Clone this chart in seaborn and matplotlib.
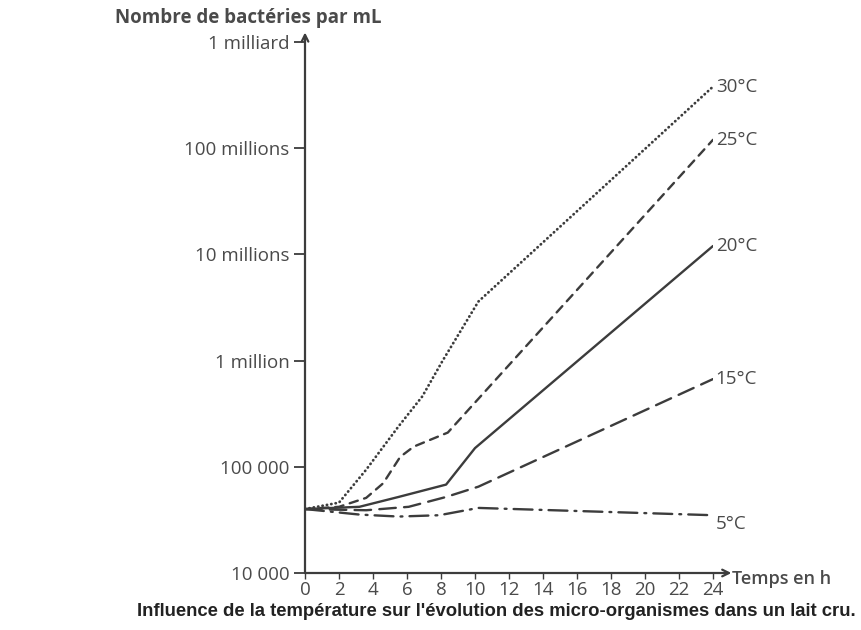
import numpy as np
import pandas as pd
import matplotlib
matplotlib.use('Agg')
import matplotlib.pyplot as plt
import seaborn as sns

# Courbes (temps en h, bactéries par mL)
T30_X = [0, 2, 3.6, 5.5, 6.9, 8.1, 10.2, 24]
T30_Y = [40000, 46000, 94000, 240000, 460000, 1000000, 3600000, 380000000]
T25_X = [0, 2, 3.6, 4.6, 5.6, 6.4, 8.4, 24]
T25_Y = [40000, 42000, 51000, 70000, 124000, 155000, 210000, 120000000]
T20_X = [0, 3.2, 5.5, 8.3, 10, 24]
T20_Y = [40000, 42000, 52000, 68000, 150000, 12000000]
T15_X = [0, 3.6, 6.1, 8.3, 10.2, 24]
T15_Y = [40000, 39000, 42000, 52000, 65000, 670000]
T5_X = [0, 3.2, 5.5, 7.9, 10.2, 24]
T5_Y = [40000, 35500, 34000, 35000, 41000, 35000]

LABELS = ['30°C', '25°C', '20°C', '15°C', '5°C']
X_TICKS = list(range(0, 25, 2))
Y_TICKS = [1e4, 1e5, 1e6, 1e7, 1e8, 1e9]
Y_TICK_LABELS = ['10 000', '100 000', '1 million', '10 millions', '100 millions', '1 milliard']

series = [(T30_X, T30_Y), (T25_X, T25_Y), (T20_X, T20_Y), (T15_X, T15_Y), (T5_X, T5_Y)]
rows = []
for lab, (xs, ys) in zip(LABELS, series):
    for x, y in zip(xs, ys):
        rows.append({'temps': x, 'bacteries': y, 'temp': lab})
df = pd.DataFrame(rows)

sns.set_theme(style='white')
plt.rcParams['font.family'] = ['Open Sans', 'DejaVu Sans']
plt.rcParams['lines.dash_capstyle'] = 'round'

GREY = '#3c3c3c'
TXT = '#4a4a4a'
fig = plt.figure(figsize=(8.61, 6.3), dpi=100)
ax = fig.add_axes([305 / 861, 57 / 630, 408 / 861, 531 / 630])

dashes = {'30°C': (0.1, 1.5), '25°C': (3.6, 2.8), '20°C': '', '15°C': (7, 3.5),
          '5°C': (8, 3, 0.8, 3)}
sns.lineplot(data=df, x='temps', y='bacteries', style='temp', dashes=dashes,
             color=GREY, linewidth=1.7, estimator=None, sort=False,
             legend=False, ax=ax)
ax.lines[0].set_linewidth(2.0)
ax.set_yscale('log')
ax.set_xlim(0, 24)
ax.set_ylim(1e4, 1e9)

for sp in ax.spines.values():
    sp.set_visible(False)
ax.annotate('', xy=(1.045, 0), xytext=(0, 0), xycoords='axes fraction',
            arrowprops=dict(arrowstyle='->', color=GREY, lw=1.6, shrinkA=0, shrinkB=0))
ax.annotate('', xy=(0, 1.018), xytext=(0, 0), xycoords='axes fraction',
            arrowprops=dict(arrowstyle='->', color=GREY, lw=1.6, shrinkA=0, shrinkB=0))

ax.set_xticks(X_TICKS)
ax.set_xticklabels([str(t) for t in X_TICKS])
ax.set_yticks(Y_TICKS)
ax.set_yticklabels(Y_TICK_LABELS)
ax.yaxis.set_minor_locator(matplotlib.ticker.NullLocator())
ax.tick_params(axis='y', direction='out', length=8, width=1.3, color=GREY,
               labelsize=13.5, labelcolor=TXT, pad=3, left=True)
ax.tick_params(axis='x', direction='out', length=4, width=1.0, color=GREY,
               labelsize=13.5, labelcolor=TXT, pad=2, bottom=True)
ax.set_xlabel('')
ax.set_ylabel('')

# étiquettes en bout de courbe
for lab, (xs, ys) in zip(LABELS, series):
    dy = -6 if lab == '5°C' else 0
    ax.annotate(lab, xy=(xs[-1], ys[-1]), xytext=(2, dy), textcoords='offset points',
                va='center', ha='left', fontsize=13.5, color=TXT, annotation_clip=False)

fig.text(115 / 861, 1 - 18 / 630, 'Nombre de bactéries par mL', fontsize=13.5,
         fontweight='bold', color=TXT, va='center', ha='left')
fig.text(732 / 861, 1 - 579 / 630, 'Temps en h', fontsize=13,
         fontweight='semibold', color=TXT, va='center', ha='left')
fig.text(496 / 861, 1 - 612 / 630,
         "Influence de la température sur l'évolution des micro-organismes dans un lait cru.",
         fontsize=13.3, fontweight='bold', color='#222222', va='center', ha='center',
         family=['Liberation Sans', 'DejaVu Sans'])

fig.savefig('out.png', dpi=100)
